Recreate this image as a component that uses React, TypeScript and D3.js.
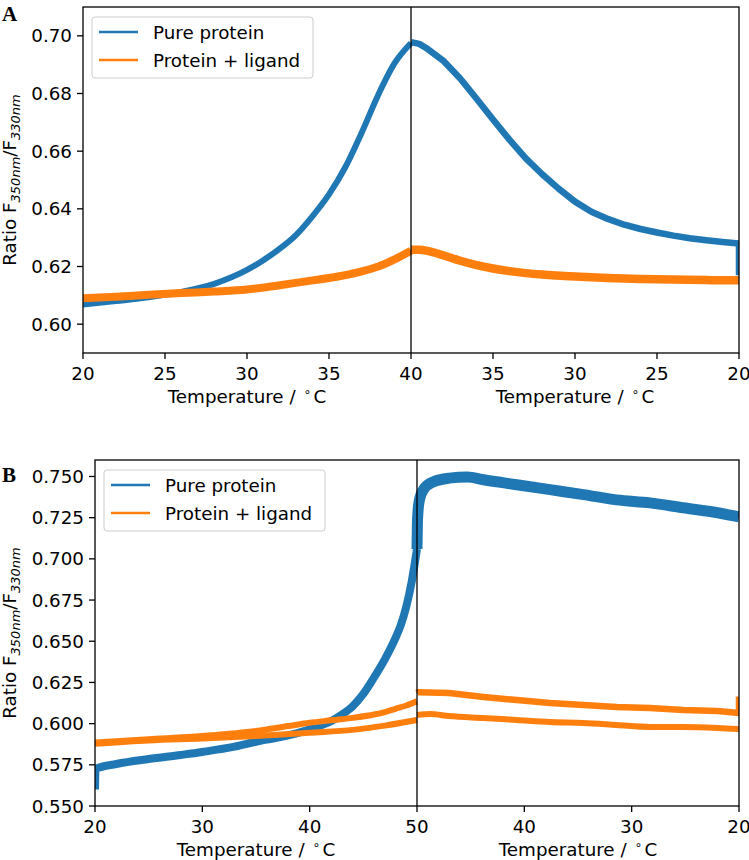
import React from 'react';
import * as d3 from 'd3';

// ---------- Panel A data (heating 20→40 °C, cooling 40→20 °C) ----------
const aBlueHeatT = [20, 22, 24, 26, 28, 30, 31, 32, 33, 34, 35, 36, 37, 38, 39, 40];
const aBlueHeatV = [0.6068, 0.608, 0.6093, 0.6112, 0.614, 0.6188, 0.6222, 0.6262, 0.631, 0.6375, 0.645, 0.6545, 0.6665, 0.6795, 0.6905, 0.6975];
const aBlueCoolT = [40, 39.5, 39, 38, 37, 36, 35, 34, 33, 32, 31, 30, 29, 28, 27, 26, 25, 24, 23, 22, 21, 20, 20];
const aBlueCoolV = [0.6978, 0.6972, 0.6955, 0.6912, 0.6852, 0.6782, 0.671, 0.664, 0.6575, 0.652, 0.647, 0.6425, 0.639, 0.6365, 0.6345, 0.633, 0.6318, 0.6307, 0.6298, 0.6291, 0.6285, 0.628, 0.617];
const aOrangeHeatT = [20, 22, 24, 26, 28, 30, 32, 34, 35, 36, 37, 38, 39, 40];
const aOrangeHeatV = [0.609, 0.6095, 0.6102, 0.6108, 0.6113, 0.612, 0.6135, 0.6152, 0.616, 0.617, 0.6183, 0.62, 0.6225, 0.6255];
const aOrangeCoolT = [40, 39.5, 39, 38, 37, 36, 35, 34, 33, 32, 30, 28, 26, 24, 22, 20];
const aOrangeCoolV = [0.6258, 0.6258, 0.6254, 0.6238, 0.622, 0.6205, 0.6193, 0.6184, 0.6177, 0.6172, 0.6165, 0.616, 0.6157, 0.6155, 0.6153, 0.6152];
const aYTicks = [0.6, 0.62, 0.64, 0.66, 0.68, 0.7];
const aXTicksHeat = [20, 25, 30, 35, 40];
const aXTicksCool = [35, 30, 25, 20];

// ---------- Panel B data (heating 20→50 °C, cooling 50→20 °C) ----------
const bBlueHeatT = [20, 20.05, 22, 25, 28, 30, 33, 35, 37, 39, 40, 41, 42, 43, 44, 45, 46, 47, 48, 48.5, 49, 49.5, 50];
const bBlueHeatV = [0.56, 0.5725, 0.5755, 0.5785, 0.581, 0.5828, 0.586, 0.589, 0.5915, 0.5945, 0.5965, 0.5988, 0.6015, 0.6055, 0.6105, 0.618, 0.628, 0.639, 0.652, 0.66, 0.671, 0.686, 0.706];
const bBlueCoolT = [50, 49.95, 49.8, 49.4, 48.5, 47, 45.3, 43.8, 40.7, 37.6, 34.5, 31.4, 28.3, 25.2, 22, 20];
const bBlueCoolV = [0.706, 0.724, 0.735, 0.742, 0.7467, 0.749, 0.7497, 0.748, 0.745, 0.742, 0.739, 0.7358, 0.734, 0.731, 0.728, 0.7255];
const bOrange1HeatT = [20, 25, 30, 35, 38, 40, 42, 44, 46, 47, 48, 49, 50];
const bOrange1HeatV = [0.5885, 0.5905, 0.5925, 0.5955, 0.5985, 0.6005, 0.602, 0.6035, 0.6055, 0.607, 0.609, 0.611, 0.6135];
const bOrange1CoolT = [50, 49.9, 47, 43.8, 40.7, 37.6, 34.5, 31.4, 28.3, 25.2, 22, 20, 20];
const bOrange1CoolV = [0.6186, 0.619, 0.6186, 0.6162, 0.6143, 0.6125, 0.6113, 0.6101, 0.6095, 0.6083, 0.6077, 0.6065, 0.6165];
const bOrange2HeatT = [20, 25, 30, 35, 40, 44, 47, 50];
const bOrange2HeatV = [0.5878, 0.5898, 0.591, 0.5925, 0.5945, 0.5962, 0.5988, 0.6022];
const bOrange2CoolT = [50, 48.8, 47, 43.8, 40.7, 37.6, 34.5, 31.4, 28.3, 25.2, 22, 20];
const bOrange2CoolV = [0.6052, 0.6058, 0.6046, 0.6034, 0.6022, 0.601, 0.6004, 0.5992, 0.598, 0.598, 0.5974, 0.5967];
const bYTicks = [0.55, 0.575, 0.6, 0.625, 0.65, 0.675, 0.7, 0.725, 0.75];
const bXTicksHeat = [20, 30, 40, 50];
const bXTicksCool = [40, 30, 20];

const legendLabels = ['Pure protein', 'Protein + ligand'];
const BLUE = '#1f77b4';
const ORANGE = '#ff7f0e';
const FONT = "'DejaVu Sans', sans-serif";
const FS = 18.3;

type Seg = { t: number[]; v: number[]; part: 'heat' | 'cool'; color: string; w: number };

const zip = (t: number[], v: number[]) => t.map((d, i) => [d, v[i]] as [number, number]);

function Panel(props: {
  id: string; letter: string; letterY: number;
  left: number; right: number; top: number; bottom: number; divider: number;
  tMax: number; yDomain: [number, number]; yTicks: number[]; yFmt: string;
  xHeat: number[]; xCool: number[]; segs: Seg[];
  legendX: number; legendY: number; legendW: number;
}) {
  const { left, right, top, bottom, divider } = props;
  const xH = d3.scaleLinear().domain([20, props.tMax]).range([left, divider]);
  const xC = d3.scaleLinear().domain([props.tMax, 20]).range([divider, right]);
  const y = d3.scaleLinear().domain(props.yDomain).range([bottom, top]);
  const fmt = d3.format(props.yFmt);
  const midY = (top + bottom) / 2;
  const tickLen = 6;
  const lx = props.legendX, ly = props.legendY;
  return (
    <g>
      <defs>
        <clipPath id={props.id}>
          <rect x={left} y={top} width={right - left} height={bottom - top} />
        </clipPath>
      </defs>
      <g clipPath={`url(#${props.id})`}>
        {props.segs.map((s, i) => {
          const xs = s.part === 'heat' ? xH : xC;
          const pts = zip(s.t, s.v);
          const hasDup = pts.some((p, k) => k > 0 && p[0] === pts[k - 1][0]);
          const line = d3.line<[number, number]>().x(d => xs(d[0])).y(d => y(d[1]))
            .curve(hasDup ? d3.curveLinear : d3.curveMonotoneX);
          return (
            <path key={i} d={line(pts) || ''} fill="none" stroke={s.color}
              strokeWidth={s.w} strokeLinejoin="round" strokeLinecap="butt" />
          );
        })}
      </g>
      <line x1={divider} x2={divider} y1={top} y2={bottom} stroke="#000" strokeWidth={1.3} />
      <rect x={left} y={top} width={right - left} height={bottom - top} fill="none" stroke="#000" strokeWidth={1.3} />
      {props.yTicks.map(t => (
        <g key={t}>
          <line x1={left - tickLen} x2={left} y1={y(t)} y2={y(t)} stroke="#000" strokeWidth={1.3} />
          <text x={left - 11} y={y(t)} dy="0.36em" textAnchor="end" fontSize={FS} fontFamily={FONT}>{fmt(t)}</text>
        </g>
      ))}
      {props.xHeat.map(t => (
        <g key={'h' + t}>
          <line x1={xH(t)} x2={xH(t)} y1={bottom} y2={bottom + tickLen} stroke="#000" strokeWidth={1.3} />
          <text x={xH(t)} y={bottom + 27} textAnchor="middle" fontSize={FS} fontFamily={FONT}>{t}</text>
        </g>
      ))}
      {props.xCool.map(t => (
        <g key={'c' + t}>
          <line x1={xC(t)} x2={xC(t)} y1={bottom} y2={bottom + tickLen} stroke="#000" strokeWidth={1.3} />
          <text x={xC(t)} y={bottom + 27} textAnchor="middle" fontSize={FS} fontFamily={FONT}>{t}</text>
        </g>
      ))}
      {[(left + divider) / 2, (divider + right) / 2].map((cx, i) => (
        <text key={i} x={cx} y={bottom + 50} textAnchor="middle" fontSize={FS} fontFamily={FONT}>
          Temperature /
          <tspan dx={8} fontSize={12.5} dy={-7}>{'\u2218'}</tspan>
          <tspan dx={2} dy={7}>C</tspan>
        </text>
      ))}
      <text transform={`translate(16,${midY}) rotate(-90)`} textAnchor="middle" fontSize={FS} fontFamily={FONT}>
        Ratio F
        <tspan fontSize={13} fontStyle="italic" dy={4}>350nm</tspan>
        <tspan dy={-4}>/F</tspan>
        <tspan fontSize={13} fontStyle="italic" dy={4}>330nm</tspan>
      </text>
      <text x={2} y={props.letterY} fontSize={21} fontWeight="bold" fontFamily="'Liberation Serif', 'Times New Roman', serif">{props.letter}</text>
      <rect x={lx} y={ly} width={props.legendW} height={61} rx={3} ry={3} fill="#fff" fillOpacity={0.8} stroke="#cccccc" strokeWidth={1} />
      {legendLabels.map((lab, i) => (
        <g key={lab}>
          <line x1={lx + 7} x2={lx + 46} y1={ly + 15 + i * 28} y2={ly + 15 + i * 28} stroke={i === 0 ? BLUE : ORANGE} strokeWidth={2.6} />
          <text x={lx + 61} y={ly + 15 + i * 28} dy="0.36em" fontSize={FS} fontFamily={FONT}>{lab}</text>
        </g>
      ))}
    </g>
  );
}

export default function App() {
  const aSegs: Seg[] = [
    { t: aBlueHeatT, v: aBlueHeatV, part: 'heat', color: BLUE, w: 6 },
    { t: aBlueCoolT, v: aBlueCoolV, part: 'cool', color: BLUE, w: 6.5 },
    { t: aOrangeHeatT, v: aOrangeHeatV, part: 'heat', color: ORANGE, w: 8 },
    { t: aOrangeCoolT, v: aOrangeCoolV, part: 'cool', color: ORANGE, w: 8.5 },
  ];
  const bSegs: Seg[] = [
    { t: bBlueHeatT, v: bBlueHeatV, part: 'heat', color: BLUE, w: 8 },
    { t: bBlueCoolT, v: bBlueCoolV, part: 'cool', color: BLUE, w: 11 },
    { t: bOrange1HeatT, v: bOrange1HeatV, part: 'heat', color: ORANGE, w: 6 },
    { t: bOrange1CoolT, v: bOrange1CoolV, part: 'cool', color: ORANGE, w: 6.5 },
    { t: bOrange2HeatT, v: bOrange2HeatV, part: 'heat', color: ORANGE, w: 6 },
    { t: bOrange2CoolT, v: bOrange2CoolV, part: 'cool', color: ORANGE, w: 6 },
  ];
  return (
    <svg width={749} height={860} style={{ position: 'absolute', left: 0, top: 0, background: '#fff' }}>
      <rect width={749} height={860} fill="#fff" />
      <Panel id="clipA" letter="A" letterY={21} left={83} right={739} top={7} bottom={353} divider={411}
        tMax={40} yDomain={[0.59, 0.71]} yTicks={aYTicks} yFmt=".2f" xHeat={aXTicksHeat} xCool={aXTicksCool}
        segs={aSegs} legendX={92} legendY={17} legendW={221} />
      <Panel id="clipB" letter="B" letterY={482} left={95} right={739} top={460} bottom={806} divider={417}
        tMax={50} yDomain={[0.55, 0.76]} yTicks={bYTicks} yFmt=".3f" xHeat={bXTicksHeat} xCool={bXTicksCool}
        segs={bSegs} legendX={104} legendY={470} legendW={221} />
    </svg>
  );
}
